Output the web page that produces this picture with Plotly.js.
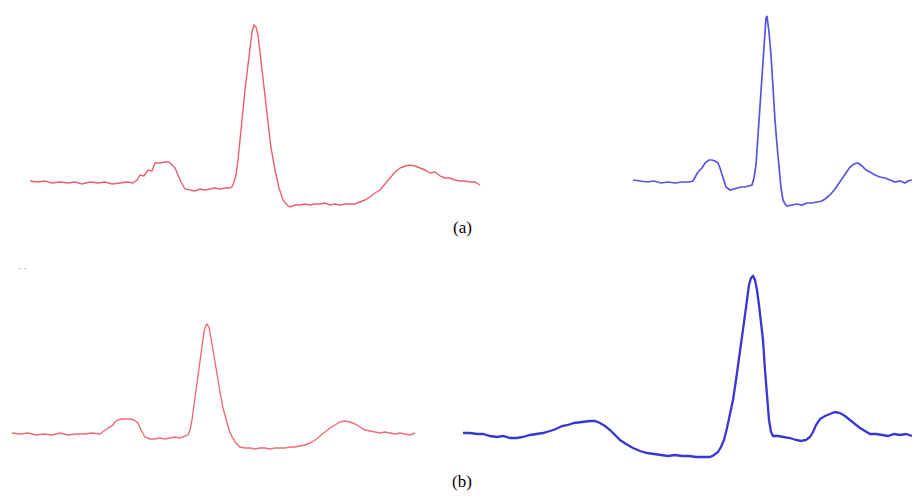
<!DOCTYPE html>
<html>
<head>
<meta charset="utf-8">
<script src="https://cdn.plot.ly/plotly-3.0.1.min.js"></script>
<style>html,body{margin:0;padding:0;background:#fff;}#chart{width:914px;height:498px;}</style>
</head>
<body>
<div id="chart"></div>
<script>
// Values (horizontal sample position, vertical position on the page scale)
const aRedX = [30,38,45,52,60,68,75,82,90,98,105,112,120,127,133,137,140,144,148,152,155,160,165,169,172,175,178,181,185,190,195,200,205,210,215,220,225,229,232,234,236,238,240,242,245,248,250,252,254,256,258,260,262,265,268,271,275,279,283,287,290,295,300,305,310,315,320,325,330,335,340,345,350,355,360,365,370,375,380,384,388,392,395,400,405,410,415,420,425,430,435,440,445,450,455,460,465,470,475,480];
const aRedY = [181,182,181,183,182,183,182,184,182,183,182,184,183,182,183,180,175,176,170,171,163,163,162,162,165,168,175,182,189,190,191,189,190,189,188,189,188,188,187,182,175,160,140,115,90,65,45,32,25,27,35,52,75,100,125,148,170,188,200,205,207,205,205,204,205,204,204,203,205,204,205,204,204,204,202,200,197,193,190,185,181,176,172,168,166,165,166,168,170,173,172,176,178,178,180,181,181,182,182,185];

const aBlueX = [633,640,647,654,661,668,675,682,689,693,696,698,702,705,709,712,715,718,720,722,724,726,730,733,737,741,745,749,752,754,756,757,758,760,761,763,764,765,766,767,768,769,771,772,774,775,777,779,781,783,785,787,792,797,802,807,812,817,822,825,830,835,839,843,847,850,854,858,862,866,870,875,880,885,890,895,900,905,908,912];
const aBlueY = [180,181,182,181,183,182,183,182,182,181,176,172,168,163,160,160,161,163,168,175,182,187,190,189,188,187,187,186,185,178,165,150,135,105,85,55,40,28,18,16,22,32,55,75,100,120,145,170,188,200,204,206,205,204,205,203,203,202,201,199,195,189,183,177,171,167,164,163,166,170,172,175,177,178,180,182,181,183,181,180];

const bRedX = [12,20,28,36,44,52,60,68,76,84,92,100,104,108,112,115,118,122,126,130,134,138,141,145,150,155,160,165,170,175,180,185,188,190,192,194,196,198,200,202,204,206,207,209,211,213,215,217,220,223,226,229,232,236,240,245,250,255,260,265,270,275,280,285,290,295,300,305,310,315,320,325,330,335,340,345,350,355,360,365,370,375,380,385,390,395,400,405,410,415];
const bRedY = [433,434,433,435,434,435,433,435,434,434,433,434,431,428,426,422,420,419,419,419,420,423,430,437,439,439,438,439,438,437,438,436,435,430,420,405,390,375,360,345,332,325,324,327,337,350,362,375,392,408,420,430,437,443,447,448,448,449,448,448,449,448,448,448,447,447,446,445,443,440,436,432,428,425,422,421,422,424,427,430,431,432,433,432,433,434,433,434,435,433];

const bBlueX = [463,470,477,483,490,497,503,510,517,523,530,537,543,550,556,562,568,574,580,586,590,595,600,605,610,615,620,626,633,640,647,654,661,668,675,682,689,696,703,710,714,718,721,724,727,730,733,736,739,742,745,747,749,751,753,755,757,759,761,763,765,767,769,771,773,778,784,790,796,801,806,810,813,816,820,825,830,835,840,845,850,855,860,865,870,876,882,888,894,900,906,912];
const bBlueY = [433,433,434,434,436,437,436,438,438,437,435,434,433,431,429,426,425,423,422,421,421,421,423,426,430,435,440,444,448,451,453,454,455,456,455,456,456,457,457,457,455,452,447,440,428,415,400,380,360,340,315,300,285,278,276,280,290,305,322,340,370,400,420,432,436,436,437,438,440,441,440,437,432,425,419,416,414,412,413,416,420,424,428,431,434,434,435,436,434,435,434,436];

const panelLabels = ["(a)", "(b)"];

const traces = [
  {x: aRedX, y: aRedY, mode: "lines", line: {color: "rgb(234,96,106)", width: 1.4}},
  {x: aBlueX, y: aBlueY, mode: "lines", line: {color: "rgb(85,85,225)", width: 1.7}},
  {x: bRedX, y: bRedY, mode: "lines", line: {color: "rgb(238,110,118)", width: 1.4}},
  {x: bBlueX, y: bBlueY, mode: "lines", line: {color: "rgb(55,55,210)", width: 2.3}}
];

const hidden = {visible: false, fixedrange: true};
const labelFont = {family: "Liberation Serif", size: 17, color: "#000"};
const layout = {
  width: 914, height: 498,
  margin: {l: 0, r: 0, t: 0, b: 0},
  paper_bgcolor: "#fff", plot_bgcolor: "#fff",
  showlegend: false,
  xaxis: Object.assign({range: [0, 914]}, hidden),
  yaxis: Object.assign({range: [498, 0]}, hidden),
  annotations: [
    {x: 462, y: 227, xref: "x", yref: "y", text: panelLabels[0], showarrow: false, font: labelFont},
    {x: 462, y: 481, xref: "x", yref: "y", text: panelLabels[1], showarrow: false, font: labelFont},
    {x: 22, y: 268, xref: "x", yref: "y", text: "- -", showarrow: false,
     font: {family: "Liberation Sans", size: 9, color: "#aaa"}}
  ]
};
Plotly.newPlot("chart", traces, layout, {staticPlot: true, displayModeBar: false});
</script>
</body>
</html>
